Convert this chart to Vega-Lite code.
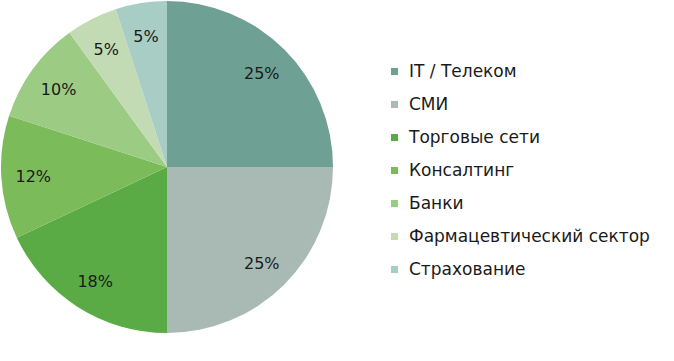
{
  "$schema": "https://vega.github.io/schema/vega-lite/v6.json",
  "width": 334,
  "height": 334,
  "padding": {"left": 0, "top": 0, "right": 0, "bottom": 0},
  "background": "white",
  "data": {
    "values": [
      {"sector": "IT / Телеком", "value": 25, "label": "25%", "ord": 1},
      {"sector": "СМИ", "value": 25, "label": "25%", "ord": 2},
      {"sector": "Торговые сети", "value": 18, "label": "18%", "ord": 3},
      {"sector": "Консалтинг", "value": 12, "label": "12%", "ord": 4},
      {"sector": "Банки", "value": 10, "label": "10%", "ord": 5},
      {"sector": "Фармацевтический сектор", "value": 5, "label": "5%", "ord": 6},
      {"sector": "Страхование", "value": 5, "label": "5%", "ord": 7}
    ]
  },
  "encoding": {
    "theta": {"field": "value", "type": "quantitative", "stack": true},
    "order": {"field": "ord", "type": "quantitative"}
  },
  "layer": [
    {
      "mark": {"type": "arc", "outerRadius": 166, "stroke": null},
      "encoding": {
        "color": {
          "field": "sector",
          "type": "nominal",
          "sort": ["IT / Телеком", "СМИ", "Торговые сети", "Консалтинг", "Банки", "Фармацевтический сектор", "Страхование"],
          "scale": {
            "domain": ["IT / Телеком", "СМИ", "Торговые сети", "Консалтинг", "Банки", "Фармацевтический сектор", "Страхование"],
            "range": ["#6fa094", "#a9bab5", "#5aab46", "#7cbb5a", "#9ccb84", "#c3dbb5", "#a8cdc5"]
          },
          "legend": {
            "title": null,
            "orient": "none",
            "legendX": 386,
            "legendY": 63,
            "symbolType": "square",
            "symbolSize": 50,
            "symbolStrokeWidth": 0,
            "labelFontSize": 17,
            "labelFont": "DejaVu Sans",
            "labelColor": "#1a1a1a",
            "labelLimit": 400,
            "rowPadding": 15,
            "labelOffset": 6
          }
        }
      }
    },
    {
      "mark": {"type": "text", "radius": 134, "dy": 2, "fontSize": 16, "font": "DejaVu Sans", "fill": "#1a1a1a"},
      "encoding": {"text": {"field": "label"}}
    }
  ],
  "config": {"view": {"stroke": null}}
}
